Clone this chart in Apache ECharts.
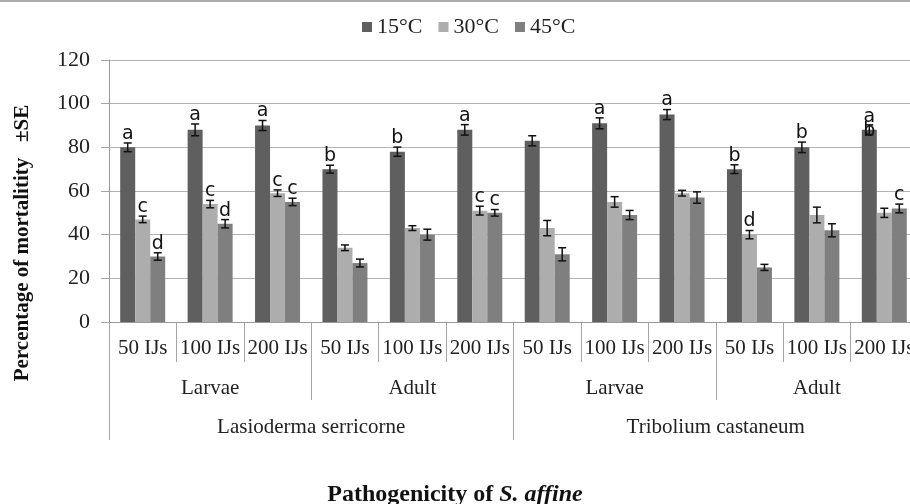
<!DOCTYPE html>
<html>
<head>
<meta charset="utf-8">
<script src="https://cdn.jsdelivr.net/npm/echarts@6/dist/echarts.min.js"></script>
<style>
  html, body { margin: 0; padding: 0; background: #fff; }
  #chart { width: 910px; height: 504px; }
</style>
</head>
<body>
<div id="chart"></div>
<script>
// doses / stages / species (3-level x axis)
const doses = ['50 IJs', '100 IJs', '200 IJs', '50 IJs', '100 IJs', '200 IJs',
               '50 IJs', '100 IJs', '200 IJs', '50 IJs', '100 IJs', '200 IJs'];
const stages = ['Larvae', 'Adult', 'Larvae', 'Adult'];
const species = ['Lasioderma serricorne', 'Tribolium castaneum'];
const seriesNames = ['15°C', '30°C', '45°C'];

// mortality (%)
const mort15 = [80, 88, 90, 70, 78, 88, 83, 91, 95, 70, 80, 88];
const mort30 = [47, 54, 59, 34, 43, 51, 43, 55, 59, 40, 49, 50];
const mort45 = [30, 45, 55, 27, 40, 50, 31, 49, 57, 25, 42, 52];

// standard error
const se15 = [2, 2.7, 2.3, 1.8, 2.1, 2.4, 2.3, 2.5, 2.3, 2, 2.4, 2.3];
const se30 = [1.5, 1.7, 1.5, 1.3, 1.1, 2, 3.5, 2.4, 1.3, 1.9, 3.6, 2.1];
const se45 = [1.7, 1.9, 1.7, 1.8, 2.5, 1.5, 3, 2.1, 2.6, 1.4, 3, 2];

// significance letters
const let15 = ['a', 'a', 'a', 'b', 'b', 'a', '', 'a', 'a', 'b', 'b', 'a\nb'];
const let30 = ['c', 'c', 'c', '', '', 'c', '', '', '', 'd', '', ''];
const let45 = ['d', 'd', 'c', '', '', 'c', '', '', '', '', '', 'c'];

const colors = ['#5f5f5f', '#adadad', '#7f7f7f'];
const BAR_W = 15;
const serif = 'Liberation Serif';

const chart = echarts.init(document.getElementById('chart'));

function barSeries(idx, vals) {
  return {
    name: seriesNames[idx],
    type: 'bar',
    xAxisIndex: 0,
    yAxisIndex: 0,
    data: vals,
    barWidth: BAR_W,
    barGap: '0%',
    itemStyle: { color: colors[idx] }
  };
}

function errSeries(idx, vals, errs, letters) {
  return {
    name: seriesNames[idx] + ' SE',
    type: 'custom',
    xAxisIndex: 0,
    yAxisIndex: 0,
    z: 5,
    data: vals.map((v, i) => [i, v, errs[i]]),
    encode: { x: 0, y: 1 },
    renderItem: function (params, api) {
      const i = api.value(0);
      const x = api.coord([i, 0])[0] + (idx - 1) * BAR_W;
      const hi = api.coord([i, api.value(1) + api.value(2)])[1];
      const lo = api.coord([i, api.value(1) - api.value(2)])[1];
      const style = { stroke: '#111', lineWidth: 1.5 };
      const children = [
        { type: 'line', shape: { x1: x, y1: hi, x2: x, y2: lo }, style: style },
        { type: 'line', shape: { x1: x - 4, y1: hi, x2: x + 4, y2: hi }, style: style },
        { type: 'line', shape: { x1: x - 4, y1: lo, x2: x + 4, y2: lo }, style: style }
      ];
      const txt = letters[params.dataIndex];
      if (txt) {
        const two = txt.indexOf('\n') >= 0;
        children.push({
          type: 'text',
          x: x,
          y: two ? hi + 13 : hi - 2,
          style: {
            text: txt,
            fill: '#111',
            font: '19px "DejaVu Sans"',
            lineHeight: 14,
            align: 'center',
            verticalAlign: 'bottom'
          }
        });
      }
      return { type: 'group', children: children };
    }
  };
}

const tickStyle = { color: '#a6a6a6', width: 1 };

const option = {
  animation: false,
  backgroundColor: '#fff',
  color: colors,
  title: {
    text: '{b|Pathogenicity of }{i|S. affine}',
    left: 'center',
    top: 478,
    textStyle: {
      rich: {
        b: { fontFamily: serif, fontWeight: 'bold', fontSize: 24, color: '#111' },
        i: { fontFamily: serif, fontWeight: 'bold', fontStyle: 'italic', fontSize: 24, color: '#111' }
      }
    }
  },
  legend: {
    data: seriesNames,
    top: 11,
    left: 357,
    icon: 'rect',
    itemWidth: 10,
    itemHeight: 10,
    itemGap: 16,
    textStyle: { fontFamily: serif, fontSize: 22, color: '#222' }
  },
  grid: {
    left: 109,
    right: -8,
    top: 60,
    bottom: 182,
    containLabel: false,
    outerBoundsMode: 'none'
  },
  xAxis: [
    {
      type: 'category',
      position: 'bottom',
      data: doses,
      axisLine: { show: true, lineStyle: { color: '#999' } },
      axisTick: { show: true, interval: 0, length: 40, lineStyle: tickStyle },
      axisLabel: { interval: 0, margin: 16, fontFamily: serif, fontSize: 21, color: '#222' }
    },
    {
      type: 'category',
      position: 'bottom',
      data: stages,
      axisLine: { show: true, lineStyle: { color: '#999' } },
      axisTick: { show: true, interval: 0, length: 78, lineStyle: tickStyle },
      axisLabel: { interval: 0, margin: 56, fontFamily: serif, fontSize: 21, color: '#222' }
    },
    {
      type: 'category',
      position: 'bottom',
      data: species,
      axisLine: { show: true, lineStyle: { color: '#999' } },
      axisTick: { show: true, interval: 0, length: 118, lineStyle: tickStyle },
      axisLabel: { interval: 0, margin: 95, fontFamily: serif, fontSize: 21, color: '#222' }
    }
  ],
  yAxis: {
    type: 'value',
    min: 0,
    max: 120,
    interval: 20,
    axisLine: { show: true, lineStyle: { color: '#999' } },
    axisTick: { show: true, length: 8, lineStyle: tickStyle },
    axisLabel: { margin: 19, fontFamily: serif, fontSize: 22, color: '#222' },
    splitLine: { lineStyle: { color: '#b3b3b3' } }
  },
  graphic: [
    {
      type: 'line',
      shape: { x1: 0, y1: 1, x2: 910, y2: 1 },
      style: { stroke: '#aaa', lineWidth: 2 }
    },
    {
      type: 'text',
      x: 23,
      y: 243,
      rotation: Math.PI / 2,
      style: {
        text: 'Percentage of mortalitity   ±SE',
        font: 'bold 21px "Liberation Serif"',
        fill: '#111',
        align: 'center',
        verticalAlign: 'middle'
      }
    }
  ],
  series: [
    barSeries(0, mort15),
    barSeries(1, mort30),
    barSeries(2, mort45),
    errSeries(0, mort15, se15, let15),
    errSeries(1, mort30, se30, let30),
    errSeries(2, mort45, se45, let45)
  ]
};

chart.setOption(option);
</script>
</body>
</html>
